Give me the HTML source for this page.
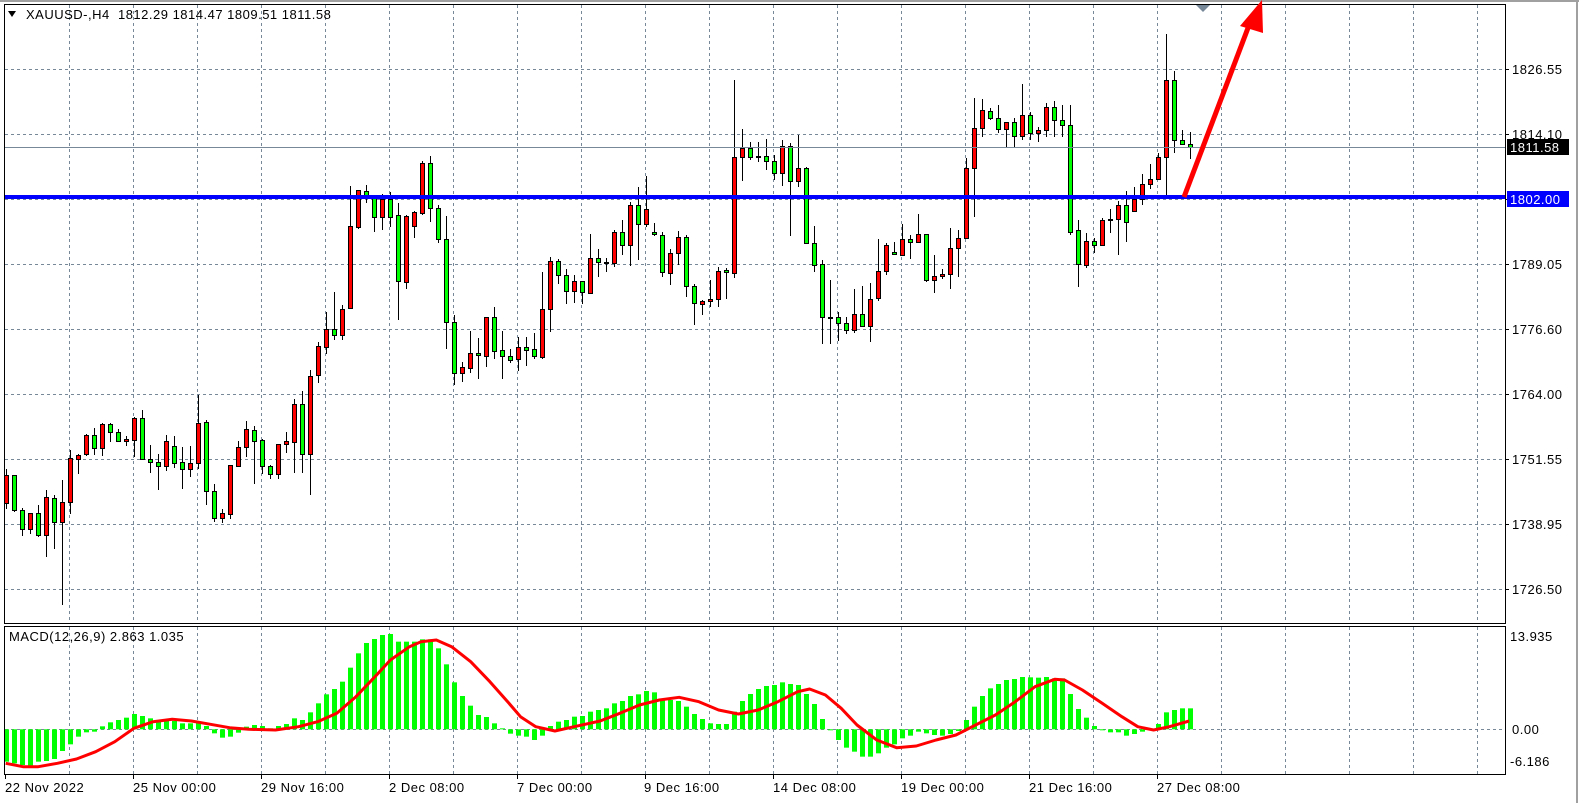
<!DOCTYPE html>
<html><head><meta charset="utf-8">
<style>
html,body{margin:0;padding:0;background:#fff;}
svg{display:block;font-family:"Liberation Sans",Arial,sans-serif;font-size:13px;letter-spacing:0.5px;}
</style></head>
<body>
<svg id="c" width="1579" height="803" viewBox="0 0 1579 803" xmlns="http://www.w3.org/2000/svg">
<rect x="0" y="0" width="1579" height="803" fill="#fff"/>
<line x1="0" y1="1" x2="1579" y2="1" stroke="#a0a0a0" stroke-width="2"/>
<line x1="1577" y1="0" x2="1577" y2="803" stroke="#a0a0a0" stroke-width="2"/>
<g id="grid" stroke="#778899" stroke-width="1" stroke-dasharray="3,3"></g>
<g id="cand"></g>
<g id="macd"></g>
<rect x="4.5" y="4.5" width="1501" height="619" fill="none" stroke="#000"/>
<rect x="4.5" y="626.5" width="1501" height="148" fill="none" stroke="#000"/>
<line x1="5" y1="147.5" x2="1505" y2="147.5" stroke="#778899" stroke-width="1"/>
<rect x="5" y="195" width="1500" height="4" fill="#0000ff"/>
<line x1="1184" y1="197" x2="1251" y2="20" stroke="#ff0000" stroke-width="5"/>
<polygon points="1240,26 1262,0 1263,33" fill="#ff0000"/>
<polygon points="1196,5 1210,5 1203,12" fill="#778899"/>
<polygon points="8,11 16,11 12,17" fill="#000"/>
<text x="26" y="19">XAUUSD-,H4&#160; 1812.29 1814.47 1809.51 1811.58</text>
<g id="ticks" stroke="#000"></g>
<text x="1512" y="74">1826.55</text>
<text x="1512" y="139">1814.10</text>
<text x="1512" y="269">1789.05</text>
<text x="1512" y="334">1776.60</text>
<text x="1512" y="399">1764.00</text>
<text x="1512" y="464">1751.55</text>
<text x="1512" y="529">1738.95</text>
<text x="1512" y="594">1726.50</text>
<rect x="1507" y="139" width="62" height="16" fill="#000"/>
<text x="1510" y="152" fill="#fff">1811.58</text>
<rect x="1507" y="191" width="62" height="16" fill="#0000ff"/>
<text x="1510" y="204" fill="#fff">1802.00</text>
<text x="1510" y="641">13.935</text>
<text x="1512" y="734">0.00</text>
<text x="1510" y="766">-6.186</text>
<text x="9" y="641">MACD(12,26,9) 2.863 1.035</text>
<text x="5" y="792">22 Nov 2022</text>
<text x="133" y="792">25 Nov 00:00</text>
<text x="261" y="792">29 Nov 16:00</text>
<text x="389" y="792">2 Dec 08:00</text>
<text x="517" y="792">7 Dec 00:00</text>
<text x="644" y="792">9 Dec 16:00</text>
<text x="773" y="792">14 Dec 08:00</text>
<text x="901" y="792">19 Dec 00:00</text>
<text x="1029" y="792">21 Dec 16:00</text>
<text x="1157" y="792">27 Dec 08:00</text>
</svg>
<script>
(function(){
var NS="http://www.w3.org/2000/svg";
function el(p,t,a){var e=document.createElementNS(NS,t);for(var k in a)e.setAttribute(k,a[k]);p.appendChild(e);return e;}
var grid=document.getElementById('grid');
for(var k=1;k<=23;k++){var x=5.5+64*k; if(x>1500)break;
 el(grid,'line',{x1:x,y1:5,x2:x,y2:623});
 el(grid,'line',{x1:x,y1:627,x2:x,y2:774});}
for(var j=0;j<9;j++){var y=69.5+65*j; el(grid,'line',{x1:5,y1:y,x2:1505,y2:y});}
el(grid,'line',{x1:5,y1:729.5,x2:1505,y2:729.5});
var tk=document.getElementById('ticks');
for(var j=0;j<9;j++){var y=69.5+65*j; el(tk,'line',{x1:1505,y1:y,x2:1509,y2:y});}
for(var k=0;k<10;k++){var x=5.5+128*k; el(tk,'line',{x1:x,y1:774,x2:x,y2:779});}
var D="r469,475,503,509 g475,475,510,512 g508,510,529,536 r513,513,529,534 g505,513,535,537 r490,497,535,557 g495,498,522,549 r480,502,522,605 r450,458,502,514 r454,455,459,474 r434,435,454,456 g428,435,448,455 r423,424,448,456 g423,424,432,442 g429,432,441,441 r436,439,441,446 r417,418,440,457 g410,418,459,459 g445,459,462,473 g454,462,466,490 r435,441,466,471 g436,446,463,468 g447,462,469,489 r446,463,469,477 r395,423,463,469 g420,422,491,505 g484,491,518,522 r509,513,518,523 r465,465,514,519 r441,447,466,467 r421,429,447,457 g426,430,441,484 g439,440,466,474 g465,466,474,479 r444,444,474,479 r432,441,444,453 r399,404,442,473 g391,404,454,473 r370,376,454,495 r342,346,375,383 r312,329,347,354 g292,329,335,340 r305,309,335,340 r186,226,308,308 r190,190,227,229 g185,191,198,203 g197,197,217,232 r194,199,217,230 g192,199,217,227 g203,215,281,320 r215,216,282,289 r211,212,226,238 r161,163,213,215 g156,163,208,222 g205,208,239,243 g216,239,322,349 g315,322,373,385 r362,367,373,382 r331,353,368,373 g338,353,355,379 r317,317,356,367 g307,317,351,359 g331,350,356,379 g349,356,360,363 r337,347,359,371 g337,347,350,366 g333,349,356,359 r272,309,357,359 r257,261,309,332 g259,261,275,284 g269,275,291,304 r275,281,291,303 g281,281,292,304 r234,258,293,294 g249,258,262,277 r258,262,263,272 r230,232,263,267 g220,232,245,255 r202,205,245,266 g187,205,224,260 r176,209,224,227 g223,232,234,236 g232,235,272,277 r249,253,273,285 r231,237,253,265 g235,237,286,297 g284,286,303,325 r300,301,304,315 r280,299,301,307 r267,271,299,307 g268,270,272,299 r80,157,273,278 r129,148,157,181 g142,148,157,160 r142,156,157,162 g139,156,161,170 g155,161,173,180 r140,146,173,186 g143,146,181,236 r135,168,181,187 g167,168,243,243 g226,243,265,272 g260,264,317,344 g280,317,318,344 g312,317,323,341 g317,323,330,334 r289,314,330,333 g286,314,326,327 r283,299,326,342 r239,271,298,301 r243,245,271,275 g242,252,254,255 r224,239,255,255 g235,239,242,259 r214,234,242,242 g234,234,280,282 r255,276,280,293 r269,274,276,279 r228,248,274,289 r230,238,248,277 r158,168,238,238 r98,128,168,217 r99,110,128,137 g108,111,118,120 g105,118,129,133 r122,122,129,147 g118,122,136,147 r84,115,136,140 g112,115,133,140 r127,130,133,142 r103,107,130,137 g101,107,120,137 g105,120,125,137 g105,125,232,235 g220,230,264,287 r233,241,265,268 g238,241,245,253 r218,220,245,245 r209,219,220,233 r201,205,219,255 g191,205,222,242 r187,199,211,211 r174,184,199,205 r164,179,184,189 r153,157,179,180 r34,80,157,195 g71,80,140,153 g130,140,144,145 g132,144,147,159".split(' ');
var cg=document.getElementById('cand');
for(var i=0;i<D.length;i++){
 var c=D[i][0]; var v=D[i].slice(1).split(',').map(Number);
 var cx=Math.round(5.7+8*i)+0.5;
 el(cg,'line',{x1:cx,y1:v[0],x2:cx,y2:v[3],stroke:'#000','stroke-width':1});
 var h=Math.max(v[2]-v[1],1);
 el(cg,'rect',{x:cx-2,y:v[1]+0.5,width:4,height:h,fill:c=='r'?'#ff0000':'#00ff00',stroke:'#000','stroke-width':1});
}
var H=[440,445,450,452,440,438,432,408,388,365,352,350,334,322,315,308,297,303,310,315,318,318,325,325,320,333,355,368,365,353,335,330,333,340,333,327,310,315,292,265,238,222,200,158,115,84,72,60,57,80,80,80,73,73,100,148,202,243,272,300,306,325,340,356,362,365,375,362,333,320,315,305,303,290,285,
280,265,258,243,238,228,232,255,255,258,275,297,312,325,327,327,290,258,237,222,213,210,202,207,210,237,267,312,345,375,398,410,425,425,415,398,388,370,362,350,355,360,362,357,348,315,275,243,220,207,195,192,186,187,188,186,190,190,237,282,308,333,343,352,352,362,357,350,345,327,292,285,280,280];
var mg=document.getElementById('macd');
var z=729.3;
for(var i=0;i<H.length;i++){
 var y=615+H[i]/3; var cx=Math.round(5.7+8*i);
 var t=Math.min(y,z), b=Math.max(y,z);
 el(mg,'rect',{x:cx-2,y:t,width:5,height:Math.max(b-t,1),fill:'#00ff00'});
}
var S1=[[15,445],[60,455],[100,455],[150,445],[200,432],[250,410],[300,380],[350,340],[400,320],[450,313],[500,318],[550,328],[600,338],[650,343],[720,345],[780,335],[830,320],[880,295],[930,245],[980,185],[1020,135],[1070,95],[1100,80],[1140,75],[1180,95],[1230,140],[1280,200],[1330,265],[1360,305],[1400,335],[1450,348],[1500,335],[1568,318]];
var S2=[[50,295],[100,270],[150,255],[200,247],[250,260],[300,285],[350,297],[400,285],[450,260],[500,230],[530,222],[570,240],[610,280],[650,330],[700,375],[750,398],[800,393],[850,375],[900,360],[950,330],[1000,300],[1050,260],[1100,215],[1150,193],[1175,195],[1220,225],[1270,265],[1320,305],[1360,335],[1400,345],[1440,335],[1490,318]];
var pts=[];
S1.forEach(function(p){pts.push((p[0]/2.613).toFixed(1)+','+(615+p[1]/3).toFixed(1));});
S2.forEach(function(p){pts.push((600+p[0]/2.529).toFixed(1)+','+(615+p[1]/3).toFixed(1));});
el(mg,'polyline',{points:pts.join(' '),fill:'none',stroke:'#ff0000','stroke-width':3,'stroke-linejoin':'round'});
})();
</script>
</body></html>
